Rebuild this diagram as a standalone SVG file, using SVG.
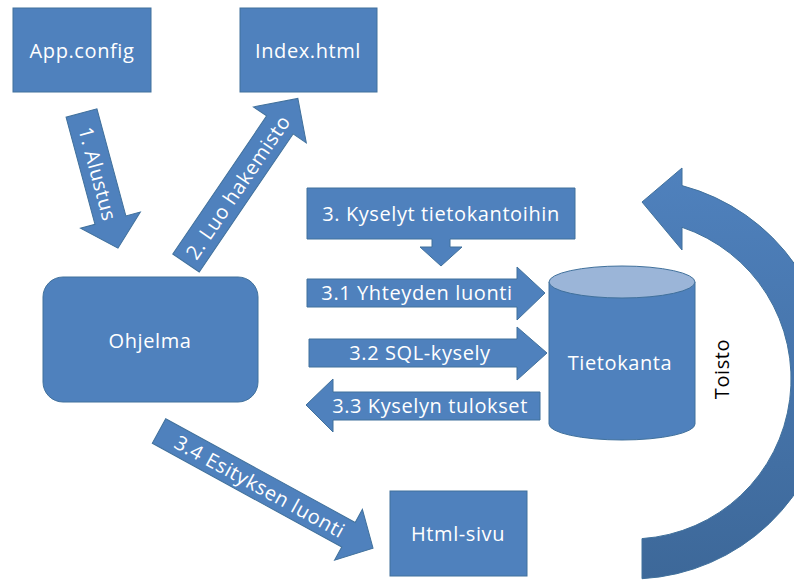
<svg xmlns="http://www.w3.org/2000/svg" width="794" height="581" viewBox="0 0 794 581">
  <defs>
    <style>
      .shape { fill: #4F81BD; stroke: #41719C; stroke-width: 1; }
      .lbl { font-family: "Open Sans", "Liberation Sans", sans-serif; font-size: 20px; fill: #FFFFFF; text-anchor: middle; dominant-baseline: central; letter-spacing: 0.6px; }
      .dark { fill: #000000; }
    </style>
    <linearGradient id="curveGrad" x1="0" y1="0" x2="0" y2="1">
      <stop offset="0" stop-color="#4F81BD"/>
      <stop offset="1" stop-color="#3D6899"/>
    </linearGradient>
  </defs>
  <rect width="794" height="581" fill="#FFFFFF"/>

  <g id="connectors">
    <g id="arrow-alustus" transform="translate(81.5,113) rotate(74.9)">
      <polygon class="shape" points="0,-16 111,-16 111,-31 140,0 111,31 111,16 0,16"/>
      <text class="lbl" x="63" y="0">1. Alustus</text>
    </g>
    <g id="arrow-hakemisto" transform="translate(186,263) rotate(-55.8)">
      <polygon class="shape" points="0,-16 167,-16 167,-32 199,0 167,32 167,16 0,16"/>
      <text class="lbl" x="92" y="0">2. Luo hakemisto</text>
    </g>
    <g id="arrow-yhteys">
      <polygon class="shape" points="307,279 517,279 517,267 545,293 517,320 517,307 307,307"/>
      <text class="lbl" x="417" y="292">3.1 Yhteyden luonti</text>
    </g>
    <g id="arrow-sql">
      <polygon class="shape" points="309,339 517,339 517,327 547,353 517,380 517,367 309,367"/>
      <text class="lbl" x="420" y="352">3.2 SQL-kysely</text>
    </g>
    <g id="arrow-tulokset">
      <polygon class="shape" points="540,392 333,392 333,379 306,405 333,432 333,420 540,420"/>
      <text class="lbl" x="430" y="405">3.3 Kyselyn tulokset</text>
    </g>
    <g id="arrow-esitys" transform="translate(159,431) rotate(28.7)">
      <polygon class="shape" points="0,-14 216,-14 216,-29 244,0 216,29 216,14 0,14"/>
      <text class="lbl" x="115" y="0">3.4 Esityksen luonti</text>
    </g>
    <g id="arrow-toisto">
      <path d="M642,578.7 A200,200 0 0 0 682,185.6 L682,168 L642,202 L682,250 L682,227.3 A160,160 0 0 1 642,538.6 Z" fill="url(#curveGrad)" stroke="#41719C" stroke-width="1"/>
      <text class="lbl dark" x="721" y="369" transform="rotate(-90 721 369)">Toisto</text>
    </g>
  </g>

  <g id="node-appconfig">
    <rect class="shape" x="13" y="8" width="138" height="84"/>
    <text class="lbl" x="82" y="50">App.config</text>
  </g>
  <g id="node-index">
    <rect class="shape" x="240" y="8" width="137" height="84"/>
    <text class="lbl" x="308" y="50">Index.html</text>
  </g>
  <g id="node-kyselyt">
    <path class="shape" d="M307,188 H575 V239 H450 V247 H462 L441,266 L420,247 H432 V239 H307 Z"/>
    <text class="lbl" x="441" y="213">3. Kyselyt tietokantoihin</text>
  </g>
  <g id="node-ohjelma">
    <rect class="shape" x="43" y="277" width="215" height="125" rx="20" ry="20"/>
    <text class="lbl" x="150" y="340">Ohjelma</text>
  </g>
  <g id="node-tietokanta">
    <path class="shape" d="M549,282 V424 A73,16 0 0 0 695,424 V282 Z"/>
    <ellipse cx="622" cy="282" rx="73" ry="16" fill="#9BB5D8" stroke="#41719C" stroke-width="1"/>
    <text class="lbl" x="620" y="362">Tietokanta</text>
  </g>
  <g id="node-htmlsivu">
    <rect class="shape" x="390" y="491" width="137" height="85"/>
    <text class="lbl" x="458" y="533">Html-sivu</text>
  </g>
</svg>
